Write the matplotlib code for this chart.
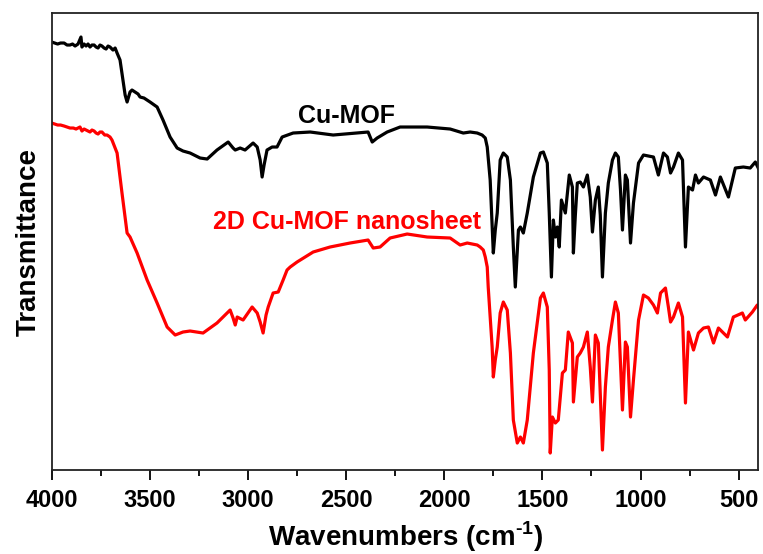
import matplotlib
matplotlib.use("Agg")
import matplotlib.pyplot as plt
from matplotlib.ticker import MultipleLocator

plt.rcParams['font.family'] = ['Liberation Sans', 'DejaVu Sans']
plt.rcParams['font.weight'] = 'bold'
plt.rcParams['mathtext.fontset'] = 'custom'
plt.rcParams['mathtext.rm'] = 'Liberation Sans:bold'
plt.rcParams['mathtext.bf'] = 'Liberation Sans:bold'

# FTIR spectrum of bulk Cu-MOF (wavenumber in cm-1, transmittance in a.u.)
mof_wn = [4000, 3985, 3970, 3955, 3937, 3922, 3907, 3894, 3881, 3866, 3851, 3846,
          3835, 3825, 3815, 3805, 3795, 3784, 3774, 3764, 3754, 3744, 3733, 3723,
          3713, 3703, 3688, 3677, 3667, 3652, 3637, 3626, 3616, 3601, 3591,
          3575, 3560, 3550, 3530, 3514, 3499, 3463, 3433, 3397, 3361, 3331, 3295,
          3244, 3208, 3158, 3101, 3076, 3065, 3040, 3015, 2974, 2953, 2938, 2928,
          2918, 2903, 2877, 2852, 2826, 2770, 2683, 2566, 2444, 2388, 2367, 2342,
          2291, 2225, 2087, 1970, 1903, 1868, 1832, 1807, 1791, 1781, 1766, 1750,
          1740, 1730, 1715, 1699, 1679, 1663, 1648, 1638, 1622, 1612, 1597, 1577,
          1546, 1510, 1495, 1475, 1465, 1454, 1444, 1434, 1424, 1414, 1403, 1383,
          1363, 1347, 1342, 1332, 1322, 1307, 1291, 1271, 1256, 1245, 1230, 1215,
          1205, 1194, 1179, 1164, 1143, 1128, 1113, 1102, 1092, 1077, 1067, 1051,
          1036, 1010, 985, 934, 909, 883, 863, 847, 832, 807, 786, 771, 756, 735,
          720, 705, 679, 644, 618, 593, 552, 517, 476, 441, 415, 400]
mof_t = [428, 427, 426, 427, 427, 425, 425, 426, 424, 426, 433, 423,
         426, 424, 426, 423, 425, 425, 423, 422, 425, 424, 422, 421,
         424, 423, 420, 422, 417, 410, 390, 375, 368, 378, 380,
         378, 376, 373, 372, 370, 368, 363, 350, 333, 322, 319, 317,
         312, 311, 320, 328, 322, 320, 322, 320, 327, 323, 310, 293,
         305, 320, 323, 323, 333, 337, 338, 335, 337, 338, 328, 332,
         338, 343, 343, 341, 337, 338, 337, 335, 332, 323, 290, 217,
         240, 257, 310, 317, 313, 290, 223, 183, 240, 243, 237, 257,
         293, 317, 318, 307, 257, 193, 250, 233, 243, 223, 270, 257,
         295, 283, 217, 255, 287, 288, 283, 295, 273, 238, 270, 283,
         255, 193, 257, 287, 310, 317, 313, 280, 240, 295, 290, 227,
         267, 307, 315, 313, 295, 317, 313, 297, 303, 317, 310, 223, 283, 280,
         295, 287, 293, 290, 275, 293, 273, 302, 303, 302, 308, 302]

# FTIR spectrum of exfoliated 2D Cu-MOF nanosheets
nano_wn = [4000, 3985, 3970, 3955, 3937, 3922, 3907, 3890, 3876, 3856, 3846, 3835,
           3825, 3815, 3805, 3795, 3784, 3774, 3764, 3754, 3744, 3730,
           3718, 3703, 3693, 3667, 3642, 3616, 3601, 3565, 3514, 3463, 3412, 3371,
           3331, 3295, 3229, 3158, 3091, 3076, 3065, 3055, 3025, 2979, 2953, 2938,
           2923, 2908, 2897, 2872, 2846, 2821, 2801, 2785, 2750, 2668, 2582, 2480,
           2388, 2362, 2327, 2276, 2189, 2087, 1970, 1919, 1883, 1832, 1817, 1801,
           1791, 1781, 1776, 1756, 1750, 1740, 1730, 1715, 1699, 1679, 1663, 1648,
           1628, 1612, 1597, 1577, 1546, 1510, 1495, 1475, 1465, 1460, 1449, 1434,
           1419, 1398, 1383, 1368, 1347, 1342, 1322, 1307, 1291, 1271, 1256, 1245,
           1230, 1215, 1194, 1179, 1164, 1143, 1128, 1113, 1092, 1077, 1067, 1051,
           1036, 1010, 985, 960, 934, 914, 898, 873, 858, 847, 832, 807, 786, 771,
           756, 730, 705, 679, 654, 628, 603, 557, 527, 481, 466, 430, 405, 400]
nano_t = [347, 346, 345, 345, 344, 343, 342, 342, 341, 343, 339, 341,
          340, 339, 338, 340, 339, 337, 336, 338, 338, 335,
          335, 333, 330, 317, 277, 237, 233, 217, 190, 167, 143, 135,
          138, 139, 137, 147, 160, 152, 145, 153, 150, 163, 157, 148,
          137, 155, 163, 177, 178, 190, 200, 203, 208, 218, 223, 227,
          230, 222, 223, 232, 236, 233, 232, 225, 227, 225, 223, 220,
          213, 203, 183, 123, 93, 110, 123, 157, 168, 160, 117, 50,
          27, 33, 27, 50, 117, 172, 177, 163, 100, 17, 53, 47,
          50, 97, 100, 138, 127, 68, 113, 117, 123, 138, 103, 68,
          135, 127, 20, 83, 123, 150, 168, 157, 60, 128, 123, 53,
          90, 150, 175, 172, 165, 157, 177, 182, 163, 148, 153, 167, 153, 67,
          138, 120, 137, 142, 143, 127, 142, 133, 153, 157, 150, 158, 165, 163]

series_labels = ["Cu-MOF", "2D Cu-MOF nanosheet"]
series_colors = ["black", "#ff0000"]

fig = plt.figure(figsize=(7.63, 5.54), dpi=100)
ax = fig.add_axes([0.0678, 0.1516, 0.926, 0.8249])

ax.plot(mof_wn, mof_t, color=series_colors[0], lw=2.3, solid_joinstyle='round')
ax.plot(nano_wn, nano_t, color=series_colors[1], lw=2.3, solid_joinstyle='round')

ax.text(2500, 354, series_labels[0], color=series_colors[0], fontsize=18,
        fontweight='bold', ha='center', va='center')
ax.text(2495, 248, series_labels[1], color=series_colors[1], fontsize=18,
        fontweight='bold', ha='center', va='center')

ax.set_xlim(4000, 400)
ax.set_ylim(0, 457)
ax.xaxis.set_major_locator(MultipleLocator(500))
ax.xaxis.set_minor_locator(MultipleLocator(250))
ax.set_yticks([])
ax.tick_params(axis='x', which='major', direction='out', length=7, width=1.3,
               labelsize=17, pad=7, top=False)
ax.tick_params(axis='x', which='minor', direction='out', length=4.5, width=1.3,
               top=False)
for lab in ax.get_xticklabels():
    lab.set_fontweight('bold')
for sp in ax.spines.values():
    sp.set_linewidth(1.3)
    sp.set_color('#222222')

ax.set_xlabel("Wavenumbers (cm$^{\u2010\\mathbf{1}}$)", fontsize=20, fontweight='bold',
              labelpad=5)
ax.set_ylabel("Transmittance", fontsize=20, fontweight='bold', labelpad=7)

fig.savefig("out.png", dpi=100)
